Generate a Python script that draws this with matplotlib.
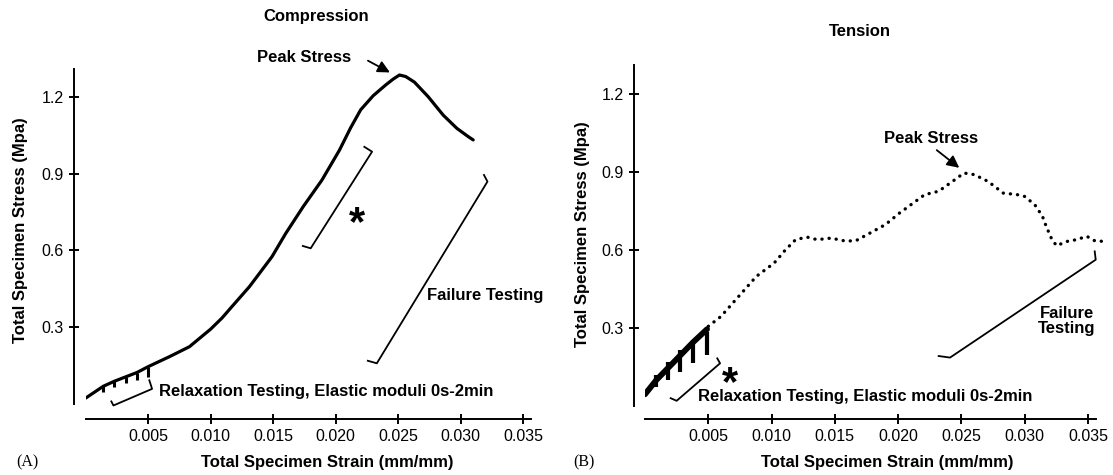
import numpy as np
import matplotlib
matplotlib.use("Agg")
import matplotlib.pyplot as plt

# compression curve (panel A)
comp_strain = [0.0, 0.0007, 0.0014, 0.0023, 0.0032, 0.0041, 0.005, 0.0067, 0.0083, 0.010,
               0.0109, 0.0117, 0.0131, 0.0149, 0.016, 0.0174, 0.0189, 0.0203, 0.0212,
               0.022, 0.023, 0.024, 0.0246, 0.0251, 0.0256, 0.0263, 0.0274, 0.0286,
               0.0297, 0.0306, 0.031]
comp_stress = [0.022, 0.045, 0.068, 0.088, 0.105, 0.122, 0.145, 0.184, 0.223, 0.292,
               0.335, 0.38, 0.458, 0.575, 0.666, 0.771, 0.875, 0.992, 1.08,
               1.15, 1.205, 1.247, 1.27, 1.286, 1.28, 1.258, 1.201, 1.129,
               1.077, 1.045, 1.032]
# relaxation drops (panel A)
comp_drop_x = [0.0014, 0.0023, 0.0032, 0.0041, 0.005]
comp_drop_top = [0.07, 0.088, 0.105, 0.122, 0.142]
comp_drop_bottom = [0.047, 0.064, 0.08, 0.093, 0.103]

# tension curve (panel B), solid relaxation part then dotted failure part
tens_relax_strain = [0.0, 0.0009, 0.0018, 0.0028, 0.0038, 0.0049]
tens_relax_stress = [0.045, 0.1, 0.145, 0.195, 0.245, 0.295]
tens_strain = [0.005, 0.006, 0.0074, 0.0088, 0.0102, 0.0111, 0.0119, 0.0128, 0.0136,
               0.0147, 0.0159, 0.0167, 0.0178, 0.019, 0.0201, 0.0212, 0.0221, 0.0232,
               0.0243, 0.0252, 0.026, 0.0271, 0.0283, 0.0294, 0.030, 0.0308, 0.0314,
               0.0317, 0.0321, 0.0325, 0.0334, 0.0341, 0.0349, 0.0356, 0.0363]
tens_stress = [0.306, 0.344, 0.421, 0.498, 0.549, 0.60, 0.639, 0.649, 0.639,
               0.645, 0.633, 0.636, 0.665, 0.697, 0.741, 0.78, 0.812, 0.825,
               0.863, 0.895, 0.889, 0.863, 0.818, 0.812, 0.805, 0.773, 0.729,
               0.69, 0.645, 0.616, 0.633, 0.639, 0.652, 0.633, 0.633]
tens_drop_x = [0.0009, 0.0018, 0.0028, 0.0038, 0.0049]
tens_drop_top = [0.12, 0.17, 0.215, 0.255, 0.285]
tens_drop_bottom = [0.074, 0.1, 0.132, 0.164, 0.196]

x_ticks = [0.005, 0.010, 0.015, 0.020, 0.025, 0.030, 0.035]
x_tick_labels = ["0.005", "0.010", "0.015", "0.020", "0.025", "0.030", "0.035"]
y_ticks = [0.3, 0.6, 0.9, 1.2]
y_tick_labels = ["0.3", "0.6", "0.9", "1.2"]

FONT = "Liberation Sans"
W, H = 1113, 475

plt.rcParams["mathtext.fontset"] = "custom"
plt.rcParams["mathtext.rm"] = "Liberation Sans:bold"
plt.rcParams["mathtext.it"] = "Liberation Sans:bold"
plt.rcParams["mathtext.bf"] = "Liberation Sans:bold"


def style_axes(ax, xmax, left_out, bottom_out):
    ax.set_xlim(0, xmax)
    ax.set_ylim(0, 1.31)
    for s in ["top", "right"]:
        ax.spines[s].set_visible(False)
    ax.spines["left"].set_position(("outward", left_out))
    ax.spines["bottom"].set_position(("outward", bottom_out))
    ax.spines["left"].set_bounds(0, 1.31)
    ax.spines["bottom"].set_bounds(0, 0.0356)
    ax.spines["left"].set_linewidth(1.4)
    ax.spines["bottom"].set_linewidth(1.4)
    ax.set_xticks(x_ticks)
    ax.set_xticklabels(x_tick_labels)
    ax.set_yticks(y_ticks)
    ax.set_yticklabels(y_tick_labels)
    ax.tick_params(direction="inout", length=7, width=1.4, labelsize=11.5, pad=4)
    ax.patch.set_visible(False)
    for lab in ax.get_xticklabels() + ax.get_yticklabels():
        lab.set_family(FONT)


def bracket(ax, pts):
    xs = [p[0] for p in pts]
    ys = [p[1] for p in pts]
    ax.plot(xs, ys, color="black", lw=1.3, clip_on=False)


def arrow(ax, start, tip):
    ax.annotate("", xy=tip, xytext=start, annotation_clip=False,
                arrowprops=dict(arrowstyle="-|>", color="black", lw=1.3,
                                mutation_scale=18, shrinkA=0, shrinkB=0))


def bold_text(ax, x, y, s, ha="left", **kw):
    ax.text(x, y, s, family=FONT, fontsize=12, fontweight="bold", ha=ha,
            va="center", clip_on=False, **kw)


def star(ax, x, y):
    # mathtext keeps the box tight around the glyph
    ax.text(x, y, r"$\mathbf{*}$", fontsize=30, ha="center", va="center")


def fig_text(fig, x, y, s, **kw):
    fig.text(x / W, 1 - y / H, s, family=FONT, ha="center", va="center", **kw)


def main():
    fig = plt.figure(figsize=(W / 100, H / 100), dpi=100)

    # ---- panel A: compression ----
    ax1 = fig.add_axes([85.7 / W, (H - 403.7) / H, 0.0356 * 12500 / W, 1.31 * 255.6 / H])
    style_axes(ax1, 0.0356, 8.2, 11)
    ax1.plot(comp_strain, comp_stress, color="black", lw=2.3, solid_capstyle="round",
             solid_joinstyle="round")
    ax1.vlines(comp_drop_x, comp_drop_bottom, comp_drop_top, color="black", lw=2.2)

    bold_text(ax1, 0.01744, 1.356, "Peak Stress", ha="center")
    arrow(ax1, (0.02258, 1.342), (0.02434, 1.296))
    bracket(ax1, [(0.02229, 1.005), (0.02291, 0.986), (0.018, 0.608), (0.01737, 0.617)])
    star(ax1, 0.0217, 0.712)
    bracket(ax1, [(0.03186, 0.895), (0.03214, 0.869), (0.02329, 0.158), (0.02257, 0.168)])
    bold_text(ax1, 0.02729, 0.425, "Failure Testing")
    bracket(ax1, [(0.00205, 0.009), (0.00222, -0.007), (0.00531, 0.058), (0.00509, 0.0916)])
    bold_text(ax1, 0.0059, 0.049, "Relaxation Testing, Elastic moduli 0s-2min")

    # ---- panel B: tension ----
    ax2 = fig.add_axes([645 / W, (H - 406) / H, 0.0365 * 12657 / W, 1.31 * 260.3 / H])
    style_axes(ax2, 0.0365, 7.7, 9.4)
    ax2.plot(tens_relax_strain, tens_relax_stress, color="black", lw=4.2,
             solid_capstyle="round", solid_joinstyle="round")
    ax2.vlines(tens_drop_x, tens_drop_bottom, tens_drop_top, color="black", lw=3.0)
    ax2.plot(tens_strain, tens_stress, color="black", lw=2.4,
             linestyle=(0, (0.05, 2.1)), dash_capstyle="round", clip_on=False)

    bold_text(ax2, 0.0226, 1.026, "Peak Stress", ha="center")
    arrow(ax2, (0.02305, 0.983), (0.02483, 0.915))
    bracket(ax2, [(0.03553, 0.594), (0.03561, 0.562), (0.0241, 0.186), (0.0232, 0.192)])
    bold_text(ax2, 0.03335, 0.325, "Failure\nTesting", ha="center", linespacing=1.0)
    bracket(ax2, [(0.00571, 0.183), (0.00593, 0.164), (0.0025, 0.020), (0.00203, 0.030)])
    star(ax2, 0.0067, 0.092)
    bold_text(ax2, 0.00421, 0.036, "Relaxation Testing, Elastic moduli 0s-2min")

    # titles, axis labels, panel letters
    fig_text(fig, 316, 17, "Compression", fontsize=12, fontweight="bold")
    fig_text(fig, 860, 32, "Tension", fontsize=12, fontweight="bold")
    fig_text(fig, 327, 462, "Total Specimen Strain (mm/mm)", fontsize=12, fontweight="bold")
    fig_text(fig, 887, 462, "Total Specimen Strain (mm/mm)", fontsize=12, fontweight="bold")
    fig_text(fig, 21, 230, "Total Specimen Stress (Mpa)", fontsize=12, fontweight="bold",
             rotation=90)
    fig_text(fig, 583, 234, "Total Specimen Stress (Mpa)", fontsize=12, fontweight="bold",
             rotation=90)
    fig.text(27 / W, 1 - 462 / H, "(A)", family="Liberation Serif", fontsize=11.5,
             ha="center", va="center")
    fig.text(584 / W, 1 - 462 / H, "(B)", family="Liberation Serif", fontsize=11.5,
             ha="center", va="center")

    fig.savefig("out.png", dpi=100)


if __name__ == "__main__":
    main()
